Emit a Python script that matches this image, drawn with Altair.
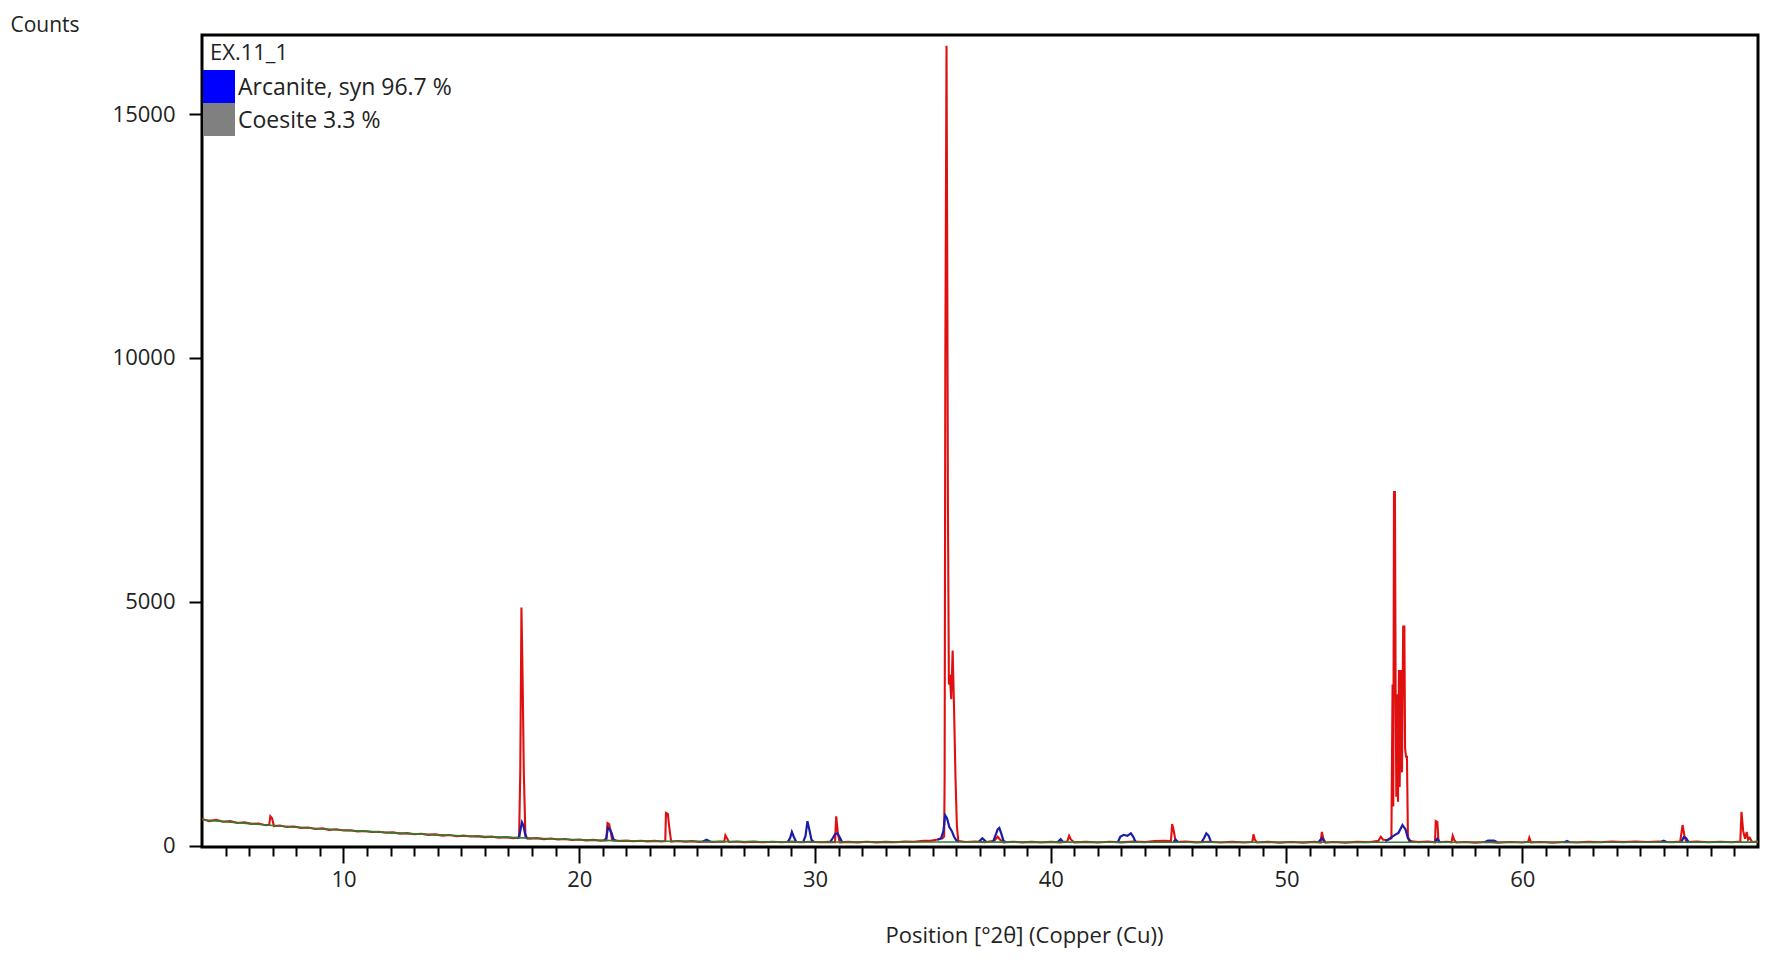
import altair as alt
import pandas as pd

# ---------------- data ----------------
# observed scan (red)
red_x = [4.0, 4.3, 4.6, 4.9, 5.2, 5.5, 5.8, 6.1, 6.4, 6.7, 6.85, 6.9, 6.97, 7.05, 7.3, 7.6, 7.9, 8.2, 8.5, 8.8,
         9.1, 9.4, 9.7, 10.0, 10.3, 10.6, 10.9, 11.2, 11.5, 11.8, 12.1, 12.4, 12.7, 13.0, 13.3, 13.6, 13.9, 14.2,
         14.5, 14.8, 15.1, 15.4, 15.7, 16.0, 16.3, 16.6, 16.9, 17.2, 17.45,
         17.5, 17.55, 17.6, 17.65, 17.72,
         17.9, 18.2, 18.5, 18.8, 19.1, 19.4, 19.7, 20.0, 20.3, 20.6, 20.9, 21.15, 21.2, 21.27, 21.33, 21.4, 21.7,
         22.0, 22.3, 22.6, 22.9, 23.2, 23.5, 23.65, 23.68, 23.76, 23.82, 23.9, 24.2, 24.5, 24.8, 25.1, 25.4, 25.7,
         26.0, 26.15, 26.2, 26.28, 26.35, 26.7, 27.0, 27.4, 27.8, 28.2, 28.6, 29.0, 29.4, 29.8, 30.2, 30.6, 30.85,
         30.9, 30.97, 31.05, 31.4, 31.8, 32.2, 32.6, 33.0, 33.4, 33.8, 34.2, 34.6, 34.9, 35.2, 35.4, 35.48,
         35.5, 35.53, 35.58, 35.61, 35.64, 35.68, 35.72, 35.78, 35.84, 35.9, 35.96, 36.02, 36.08,
         36.4, 36.8, 37.2, 37.6, 37.75, 37.85, 38.0, 38.4, 38.8, 39.2, 39.6, 40.0, 40.4, 40.7, 40.78, 40.86, 41.0,
         41.5, 42.0, 42.5, 43.0, 43.5, 44.0, 44.4, 44.8, 45.1, 45.15, 45.22, 45.3, 45.7, 46.2, 46.7, 47.2, 47.7,
         48.2, 48.55, 48.6, 48.66, 48.75, 49.2, 49.7, 50.2, 50.7, 51.2, 51.45, 51.5, 51.56, 51.65, 52.0, 52.5,
         53.0, 53.5, 53.9, 54.0, 54.1, 54.3, 54.45,
         54.5, 54.53, 54.56, 54.6, 54.63, 54.66, 54.7, 54.73, 54.77, 54.8, 54.86, 54.9, 54.95, 55.0, 55.03, 55.07,
         55.11, 55.15, 55.2,
         55.6, 56.0, 56.3, 56.33, 56.4, 56.45, 56.8, 57.0, 57.05, 57.12, 57.2, 57.6, 58.0, 58.5, 59.0, 59.5, 60.0,
         60.25, 60.3, 60.37, 60.8, 61.3, 61.8, 62.3, 62.8, 63.3, 63.8, 64.3, 64.8, 65.3, 65.8, 66.3, 66.7, 66.8,
         66.88, 66.96, 67.4, 67.9, 68.4, 68.9, 69.25, 69.3, 69.37, 69.45, 69.52, 69.58, 69.65, 69.75, 70.0]
red_y = [545, 500, 525, 488, 500, 462, 478, 445, 452, 418, 425, 600, 560, 400, 410, 382, 390, 362, 370, 340,
         352, 322, 333, 310, 312, 290, 298, 278, 284, 262, 270, 244, 254, 232, 242, 218, 228, 204,
         216, 192, 204, 184, 192, 172, 182, 160, 172, 152, 162,
         1500, 4880, 3400, 1500, 160,
         142, 152, 132, 144, 124, 134, 114, 124, 106, 116, 98, 106, 460, 440, 300, 108, 94,
         100, 88, 98, 86, 95, 84, 90, 670, 650, 370, 82, 92, 80, 90, 76, 86, 74,
         84, 76, 210, 140, 72, 82, 70, 80, 68, 78, 66, 80, 68, 78, 66, 76, 68,
         600, 260, 66, 76, 64, 78, 64, 76, 66, 80, 78, 96, 96, 124, 146, 184,
         1400, 10000, 16400, 12000, 6900, 3300, 3500, 3000, 4000, 2800, 1400, 400, 90,
         72, 82, 68, 96, 180, 120, 66, 78, 64, 76, 62, 76, 64, 80, 200, 120, 64,
         76, 62, 78, 64, 80, 70, 94, 96, 94, 440, 300, 74, 80, 64, 78, 62, 76,
         62, 74, 230, 120, 62, 76, 60, 74, 60, 74, 62, 280, 150, 60, 74, 60,
         76, 68, 96, 180, 120, 114, 150,
         3300, 800, 7250, 7250, 3100, 1000, 3100, 900, 3600, 1200, 3600, 1500, 4490, 4490, 2000, 1820,
         1820, 200, 90,
         70, 80, 66, 500, 480, 68, 76, 64, 200, 110, 62, 74, 60, 74, 60, 74, 62,
         76, 160, 64, 74, 60, 74, 62, 76, 66, 80, 70, 84, 72, 82, 68, 80, 420,
         200, 74, 80, 66, 78, 68, 80, 690, 300, 140, 280, 120, 160, 74, 80]

# background (green)
bg_x = [4.0, 5.0, 6.0, 7.0, 8.0, 9.0, 10.0, 11.0, 12.0, 13.0, 14.0, 15.0, 16.0, 17.0, 18.0, 19.0, 20.0,
        21.0, 22.0, 23.0, 24.0, 25.0, 26.0, 28.0, 30.0, 32.0, 34.0, 36.0, 40.0, 45.0, 50.0, 55.0, 60.0,
        65.0, 70.0]
bg_y = [530, 490, 450, 410, 375, 345, 315, 290, 265, 240, 220, 200, 182, 168, 150, 135, 118,
        105, 97, 92, 88, 84, 80, 76, 73, 72, 72, 72, 70, 68, 66, 66, 66,
        68, 70]

# calculated Arcanite profile (blue), drawn as local peak segments
blue_x = [17.35, 17.45, 17.52, 17.57, 17.63, 17.7, 17.78, 17.85,
          21.05, 21.15, 21.22, 21.3, 21.38, 21.45, 21.55,
          25.25, 25.4, 25.55,
          28.85, 28.95, 29.02, 29.1, 29.2,
          29.5, 29.6, 29.68, 29.76, 29.85, 29.95,
          30.65, 30.75, 30.85, 30.95, 31.05, 31.15,
          35.2, 35.35, 35.45, 35.52, 35.6, 35.7, 35.8, 35.9, 36.0, 36.1,
          36.95, 37.1, 37.25,
          37.55, 37.65, 37.75, 37.82, 37.9, 38.0, 38.1,
          40.3, 40.42, 40.52,
          42.85, 42.95, 43.1, 43.25, 43.4, 43.5, 43.6,
          45.2, 45.3, 45.4,
          46.4, 46.5, 46.6, 46.7, 46.8,
          51.35, 51.5, 51.62,
          54.2, 54.4, 54.6, 54.75, 54.92, 55.05, 55.15, 55.3,
          56.3, 56.4, 56.5,
          58.4, 58.55, 58.8, 58.95,
          61.8, 61.9, 62.0,
          65.9, 66.0, 66.1,
          66.75, 66.85, 66.95, 67.05]
blue_y = [150, 170, 350, 480, 420, 250, 150, 145,
          104, 150, 370, 330, 250, 130, 100,
          82, 120, 82,
          75, 160, 280, 180, 76,
          75, 200, 500, 330, 120, 75,
          74, 150, 230, 250, 170, 74,
          120, 150, 300, 620, 560, 380, 300, 180, 100, 76,
          75, 150, 80,
          74, 200, 330, 360, 250, 90, 74,
          72, 130, 72,
          72, 180, 220, 200, 250, 180, 74,
          74, 120, 74,
          72, 150, 250, 200, 72,
          68, 150, 68,
          85, 150, 220, 260, 420, 330, 150, 72,
          72, 140, 72,
          68, 100, 100, 68,
          68, 95, 68,
          76, 100, 76,
          76, 170, 150, 76]
blue_group = ([1] * 8 + [2] * 7 + [3] * 3 + [4] * 5 + [5] * 6 + [6] * 6 + [7] * 10 + [8] * 3 + [9] * 7
              + [10] * 3 + [11] * 7 + [12] * 3 + [13] * 5 + [14] * 3 + [15] * 8 + [16] * 3 + [17] * 4
              + [18] * 3 + [19] * 3 + [20] * 4)

legend_title = "EX.11_1"
legend_labels = ["Arcanite, syn 96.7 %", "Coesite 3.3 %"]
legend_colors = ["#0000ff", "#808080"]

x_ticks = list(range(5, 70))
y_ticks = [0, 5000, 10000, 15000]

FONT = "Open Sans"

red_df = pd.DataFrame({"x": red_x, "y": red_y})
bg_df = pd.DataFrame({"x": bg_x, "y": bg_y})
blue_df = pd.DataFrame({"x": blue_x, "y": blue_y, "g": blue_group})

x_enc = alt.X(
    "x:Q",
    scale=alt.Scale(domain=[4, 70], nice=False, zero=False),
    axis=alt.Axis(
        values=x_ticks,
        grid=False,
        domain=False,
        tickColor="black",
        tickWidth=2,
        tickSize={"condition": {"test": "datum.value % 10 === 0", "value": 16}, "value": 9},
        labelExpr="datum.value % 10 === 0 ? datum.label : ''",
        labelOverlap=False,
        labelFont=FONT,
        labelFontSize=22,
        labelColor="#222222",
        labelPadding=6,
        title="Position [°2θ] (Copper (Cu))",
        titleFont=FONT,
        titleFontSize=22,
        titleFontWeight="normal",
        titleColor="#222222",
        titleX=822,
        titleY=88,
        titleAlign="center",
        titleBaseline="middle",
    ),
)
y_enc = alt.Y(
    "y:Q",
    scale=alt.Scale(domain=[-30, 16620], nice=False, zero=False),
    axis=alt.Axis(
        values=y_ticks,
        format="d",
        grid=False,
        domain=False,
        tickColor="black",
        tickWidth=2,
        tickSize=13,
        labelFont=FONT,
        labelFontSize=22,
        labelColor="#222222",
        labelPadding=14,
        title="Counts",
        titleFont=FONT,
        titleFontSize=21,
        titleFontWeight="normal",
        titleColor="#222222",
        titleAngle=0,
        titleX=-192,
        titleY=-10,
        titleAlign="left",
        titleBaseline="middle",
    ),
)

red_line = alt.Chart(red_df).mark_line(color="#e01010", strokeWidth=2.1, clip=True).encode(x=x_enc, y=y_enc)
blue_line = alt.Chart(blue_df).mark_line(color="#1c1ca8", strokeWidth=2.2, clip=True).encode(
    x=x_enc, y=y_enc, detail="g:N")
green_line = alt.Chart(bg_df).mark_line(color="#2e7d32", strokeWidth=1.6, clip=True).encode(x=x_enc, y=y_enc)

# legend box (top-left inside the frame)
leg_title = alt.Chart(pd.DataFrame({"t": [legend_title]})).mark_text(
    align="left", baseline="middle", font=FONT, fontSize=22, color="#222222"
).encode(x=alt.value(8), y=alt.value(18), text="t:N")

leg_layers = []
for i, (lab, col) in enumerate(zip(legend_labels, legend_colors)):
    d = pd.DataFrame({"t": [lab]})
    top = 35 + 33 * i
    leg_layers.append(
        alt.Chart(d).mark_rect(color=col).encode(
            x=alt.value(1), x2=alt.value(33), y=alt.value(top), y2=alt.value(top + 33))
    )
    leg_layers.append(
        alt.Chart(d).mark_text(align="left", baseline="middle", font=FONT, fontSize=23, color="#222222").encode(
            x=alt.value(36), y=alt.value(top + 18), text="t:N")
    )

chart = alt.layer(red_line, blue_line, green_line, leg_title, *leg_layers).properties(
    width=1556,
    height=812,
    autosize=alt.AutoSizeParams(type="none"),
    padding={"left": 194, "top": 27, "right": 4, "bottom": 120},
).configure(
    background="white",
    view=alt.ViewConfig(stroke="black", strokeWidth=3),
)

chart.save("out.html", embed_options={"renderer": "svg", "actions": False})
